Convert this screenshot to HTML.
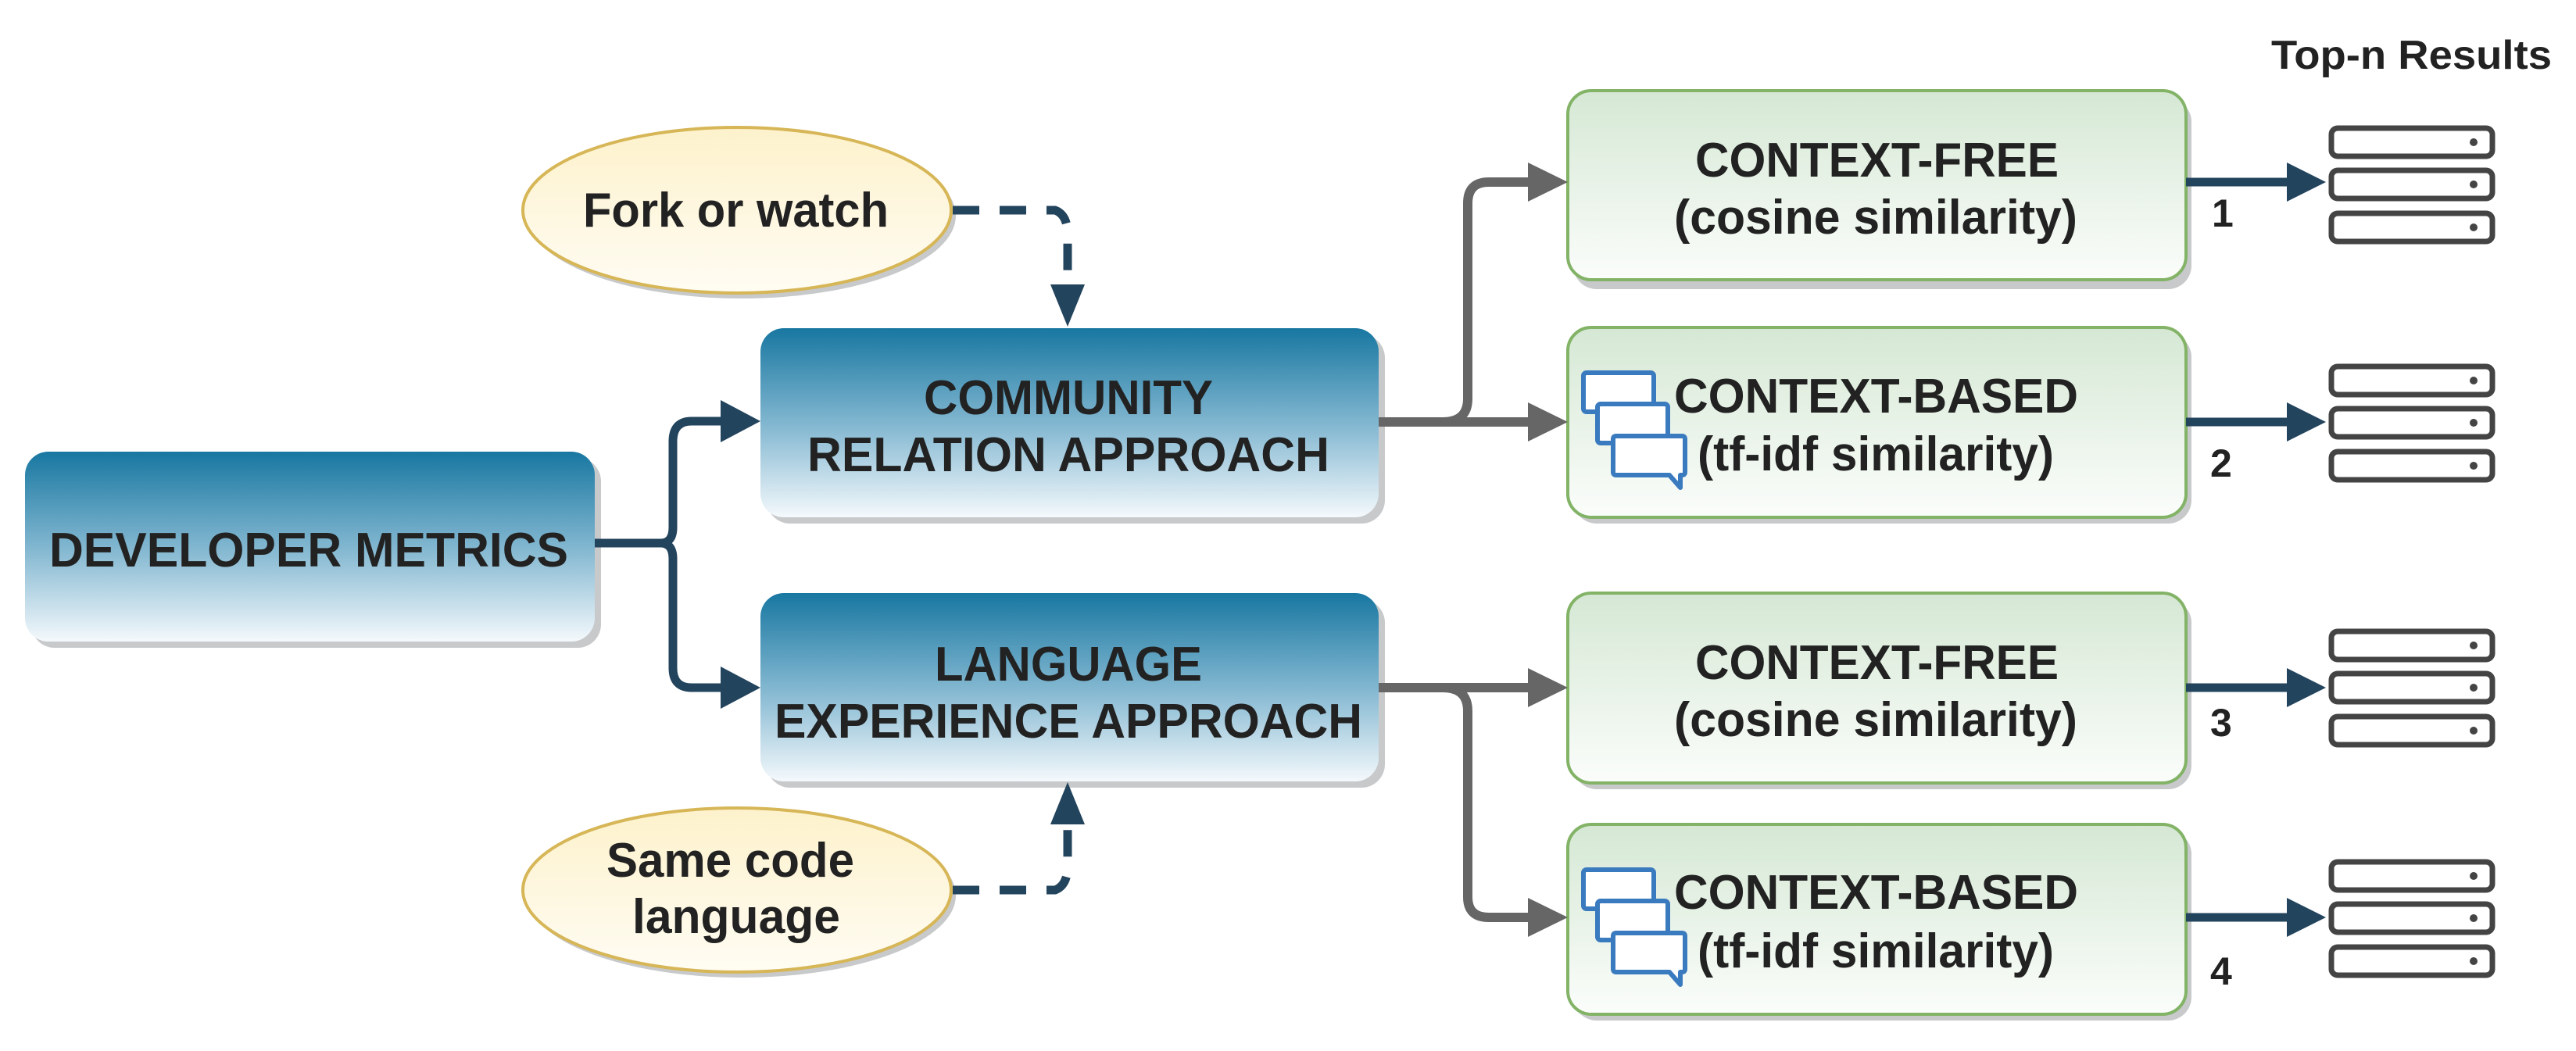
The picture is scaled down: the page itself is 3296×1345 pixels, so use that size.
<!DOCTYPE html>
<html><head><meta charset="utf-8"><style>
html,body{margin:0;padding:0;background:#fff;}
svg{display:block;}
text{font-family:"Liberation Sans",sans-serif;font-weight:bold;fill:#222;}
</style></head><body>
<svg width="3296" height="1345" viewBox="0 0 3296 1345" xmlns="http://www.w3.org/2000/svg">
<defs>
<linearGradient id="bl" x1="0" y1="0" x2="0" y2="1">
<stop offset="0" stop-color="#1877a1"/><stop offset="0.55" stop-color="#8bbcd4"/><stop offset="1" stop-color="#f4f9fc"/></linearGradient>
<linearGradient id="gr" x1="0" y1="0" x2="0" y2="1">
<stop offset="0" stop-color="#d5e8d4"/><stop offset="1" stop-color="#fbfdfb"/></linearGradient>
<linearGradient id="yl" x1="0" y1="0" x2="0" y2="1">
<stop offset="0" stop-color="#fdf2cc"/><stop offset="1" stop-color="#fffcf3"/></linearGradient>
</defs>

<g fill="#c8c9cb">
<rect x="40" y="586" width="729" height="243" rx="30"/>
<rect x="981" y="428" width="791" height="242" rx="30"/>
<rect x="981" y="767" width="791" height="241" rx="30"/>
<rect x="2013" y="126" width="791" height="244" rx="30"/>
<rect x="2013" y="427" width="791" height="243" rx="30"/>
<rect x="2013" y="767" width="791" height="243" rx="30"/>
<rect x="2013" y="1063" width="791" height="243" rx="30"/>
<ellipse cx="949" cy="276" rx="274" ry="106"/>
<ellipse cx="949" cy="1146" rx="274" ry="105"/>
</g>

<rect x="32" y="578" width="729" height="243" rx="30" fill="url(#bl)"/>
<rect x="973" y="420" width="791" height="242" rx="30" fill="url(#bl)"/>
<rect x="973" y="759" width="791" height="241" rx="30" fill="url(#bl)"/>

<g fill="url(#gr)" stroke="#82b366" stroke-width="4">
<rect x="2006" y="116" width="791" height="242" rx="30"/>
<rect x="2006" y="419" width="791" height="243" rx="30"/>
<rect x="2006" y="759" width="791" height="243" rx="30"/>
<rect x="2006" y="1055" width="791" height="243" rx="30"/>
</g>

<g fill="url(#yl)" stroke="#d6b656" stroke-width="4">
<ellipse cx="943" cy="269" rx="274" ry="106"/>
<ellipse cx="943" cy="1139" rx="274" ry="105"/>
</g>

<g fill="none" stroke="#23445d" stroke-width="11" stroke-dasharray="34,26">
<path d="M1219 269 H1350 Q1366 275 1366 300 V370"/>
<path d="M1219 1139 H1350 Q1366 1133 1366 1108 V1050"/>
</g>
<g fill="#23445d">
<polygon points="1344,364 1388,364 1366,418"/>
<polygon points="1344,1055 1388,1055 1366,1001"/>
</g>

<g fill="none" stroke="#23445d" stroke-width="11">
<path d="M761 695 H845 Q861 695 861 675 V565 Q861 539 885 539 H930"/>
<path d="M845 695 Q861 695 861 715 V855 Q861 880 885 880 H930"/>
</g>
<g fill="#23445d">
<polygon points="922,512 973,539 922,566"/>
<polygon points="922,853 973,880 922,907"/>
</g>

<g fill="none" stroke="#666" stroke-width="12">
<path d="M1764 540 H1960"/>
<path d="M1846 540 Q1878 540 1878 510 V260 Q1878 233 1905 233 H1960"/>
<path d="M1764 880 H1960"/>
<path d="M1846 880 Q1878 880 1878 910 V1148 Q1878 1174 1905 1174 H1960"/>
</g>
<g fill="#666">
<polygon points="1955,208 2006,233 1955,258"/>
<polygon points="1955,515 2006,540 1955,565"/>
<polygon points="1955,855 2006,880 1955,905"/>
<polygon points="1955,1149 2006,1174 1955,1199"/>
</g>

<g fill="none" stroke="#23445d" stroke-width="11">
<path d="M2797 233 H2932"/><path d="M2797 540 H2932"/><path d="M2797 880 H2932"/><path d="M2797 1174 H2932"/>
</g>
<g fill="#23445d">
<polygon points="2926,208 2976,233 2926,258"/>
<polygon points="2926,515 2976,540 2926,565"/>
<polygon points="2926,855 2976,880 2926,905"/>
<polygon points="2926,1149 2976,1174 2926,1199"/>
</g>

<g fill="#fff" stroke="#444" stroke-width="7">
<rect x="2983" y="164" width="206" height="36" rx="8"/><rect x="2983" y="218" width="206" height="36" rx="8"/><rect x="2983" y="273" width="206" height="36" rx="8"/>
<rect x="2983" y="469" width="206" height="36" rx="8"/><rect x="2983" y="523" width="206" height="36" rx="8"/><rect x="2983" y="578" width="206" height="36" rx="8"/>
<rect x="2983" y="808" width="206" height="36" rx="8"/><rect x="2983" y="862" width="206" height="36" rx="8"/><rect x="2983" y="917" width="206" height="36" rx="8"/>
<rect x="2983" y="1103" width="206" height="36" rx="8"/><rect x="2983" y="1157" width="206" height="36" rx="8"/><rect x="2983" y="1212" width="206" height="36" rx="8"/>
</g>
<g fill="#444">
<circle cx="3165" cy="182" r="5"/><circle cx="3165" cy="236" r="5"/><circle cx="3165" cy="291" r="5"/>
<circle cx="3165" cy="487" r="5"/><circle cx="3165" cy="541" r="5"/><circle cx="3165" cy="596" r="5"/>
<circle cx="3165" cy="826" r="5"/><circle cx="3165" cy="880" r="5"/><circle cx="3165" cy="935" r="5"/>
<circle cx="3165" cy="1121" r="5"/><circle cx="3165" cy="1175" r="5"/><circle cx="3165" cy="1230" r="5"/>
</g>

<g id="chat" fill="#fff" stroke="#3a7abf" stroke-width="6" stroke-linejoin="round">
<rect x="2026" y="477" width="90" height="50" rx="4"/>
<rect x="2044" y="517" width="90" height="50" rx="4"/>
<path d="M2068 558 H2152 Q2156 558 2156 562 V604 Q2156 608 2152 608 H2150 V624 L2136 608 H2068 Q2064 608 2064 604 V562 Q2064 558 2068 558 Z"/>
</g>
<use href="#chat" transform="translate(0,636)"/>

<g font-size="62">
<text x="63" y="725" textLength="664" lengthAdjust="spacingAndGlyphs">DEVELOPER METRICS</text>
<text x="1182" y="530" textLength="370" lengthAdjust="spacingAndGlyphs">COMMUNITY</text>
<text x="1033" y="603" textLength="668" lengthAdjust="spacingAndGlyphs">RELATION APPROACH</text>
<text x="1196" y="871" textLength="342" lengthAdjust="spacingAndGlyphs">LANGUAGE</text>
<text x="991" y="944" textLength="752" lengthAdjust="spacingAndGlyphs">EXPERIENCE APPROACH</text>
<text x="746" y="290" textLength="391" lengthAdjust="spacingAndGlyphs">Fork or watch</text>
<text x="776" y="1122" textLength="317" lengthAdjust="spacingAndGlyphs">Same code</text>
<text x="809" y="1194" textLength="266" lengthAdjust="spacingAndGlyphs">language</text>
<text x="2169" y="226" textLength="465" lengthAdjust="spacingAndGlyphs">CONTEXT-FREE</text>
<text x="2142" y="299" textLength="516" lengthAdjust="spacingAndGlyphs">(cosine similarity)</text>
<text x="2142" y="528" textLength="517" lengthAdjust="spacingAndGlyphs">CONTEXT-BASED</text>
<text x="2172" y="602" textLength="456" lengthAdjust="spacingAndGlyphs">(tf-idf similarity)</text>
<text x="2169" y="869" textLength="465" lengthAdjust="spacingAndGlyphs">CONTEXT-FREE</text>
<text x="2142" y="942" textLength="516" lengthAdjust="spacingAndGlyphs">(cosine similarity)</text>
<text x="2142" y="1163" textLength="517" lengthAdjust="spacingAndGlyphs">CONTEXT-BASED</text>
<text x="2172" y="1238" textLength="456" lengthAdjust="spacingAndGlyphs">(tf-idf similarity)</text>
</g>
<text x="2906" y="88" font-size="52" textLength="359" lengthAdjust="spacingAndGlyphs">Top-n Results</text>
<g font-size="50">
<text x="2830" y="290">1</text>
<text x="2828" y="610">2</text>
<text x="2828" y="942">3</text>
<text x="2828" y="1260">4</text>
</g>
</svg>
</body></html>
